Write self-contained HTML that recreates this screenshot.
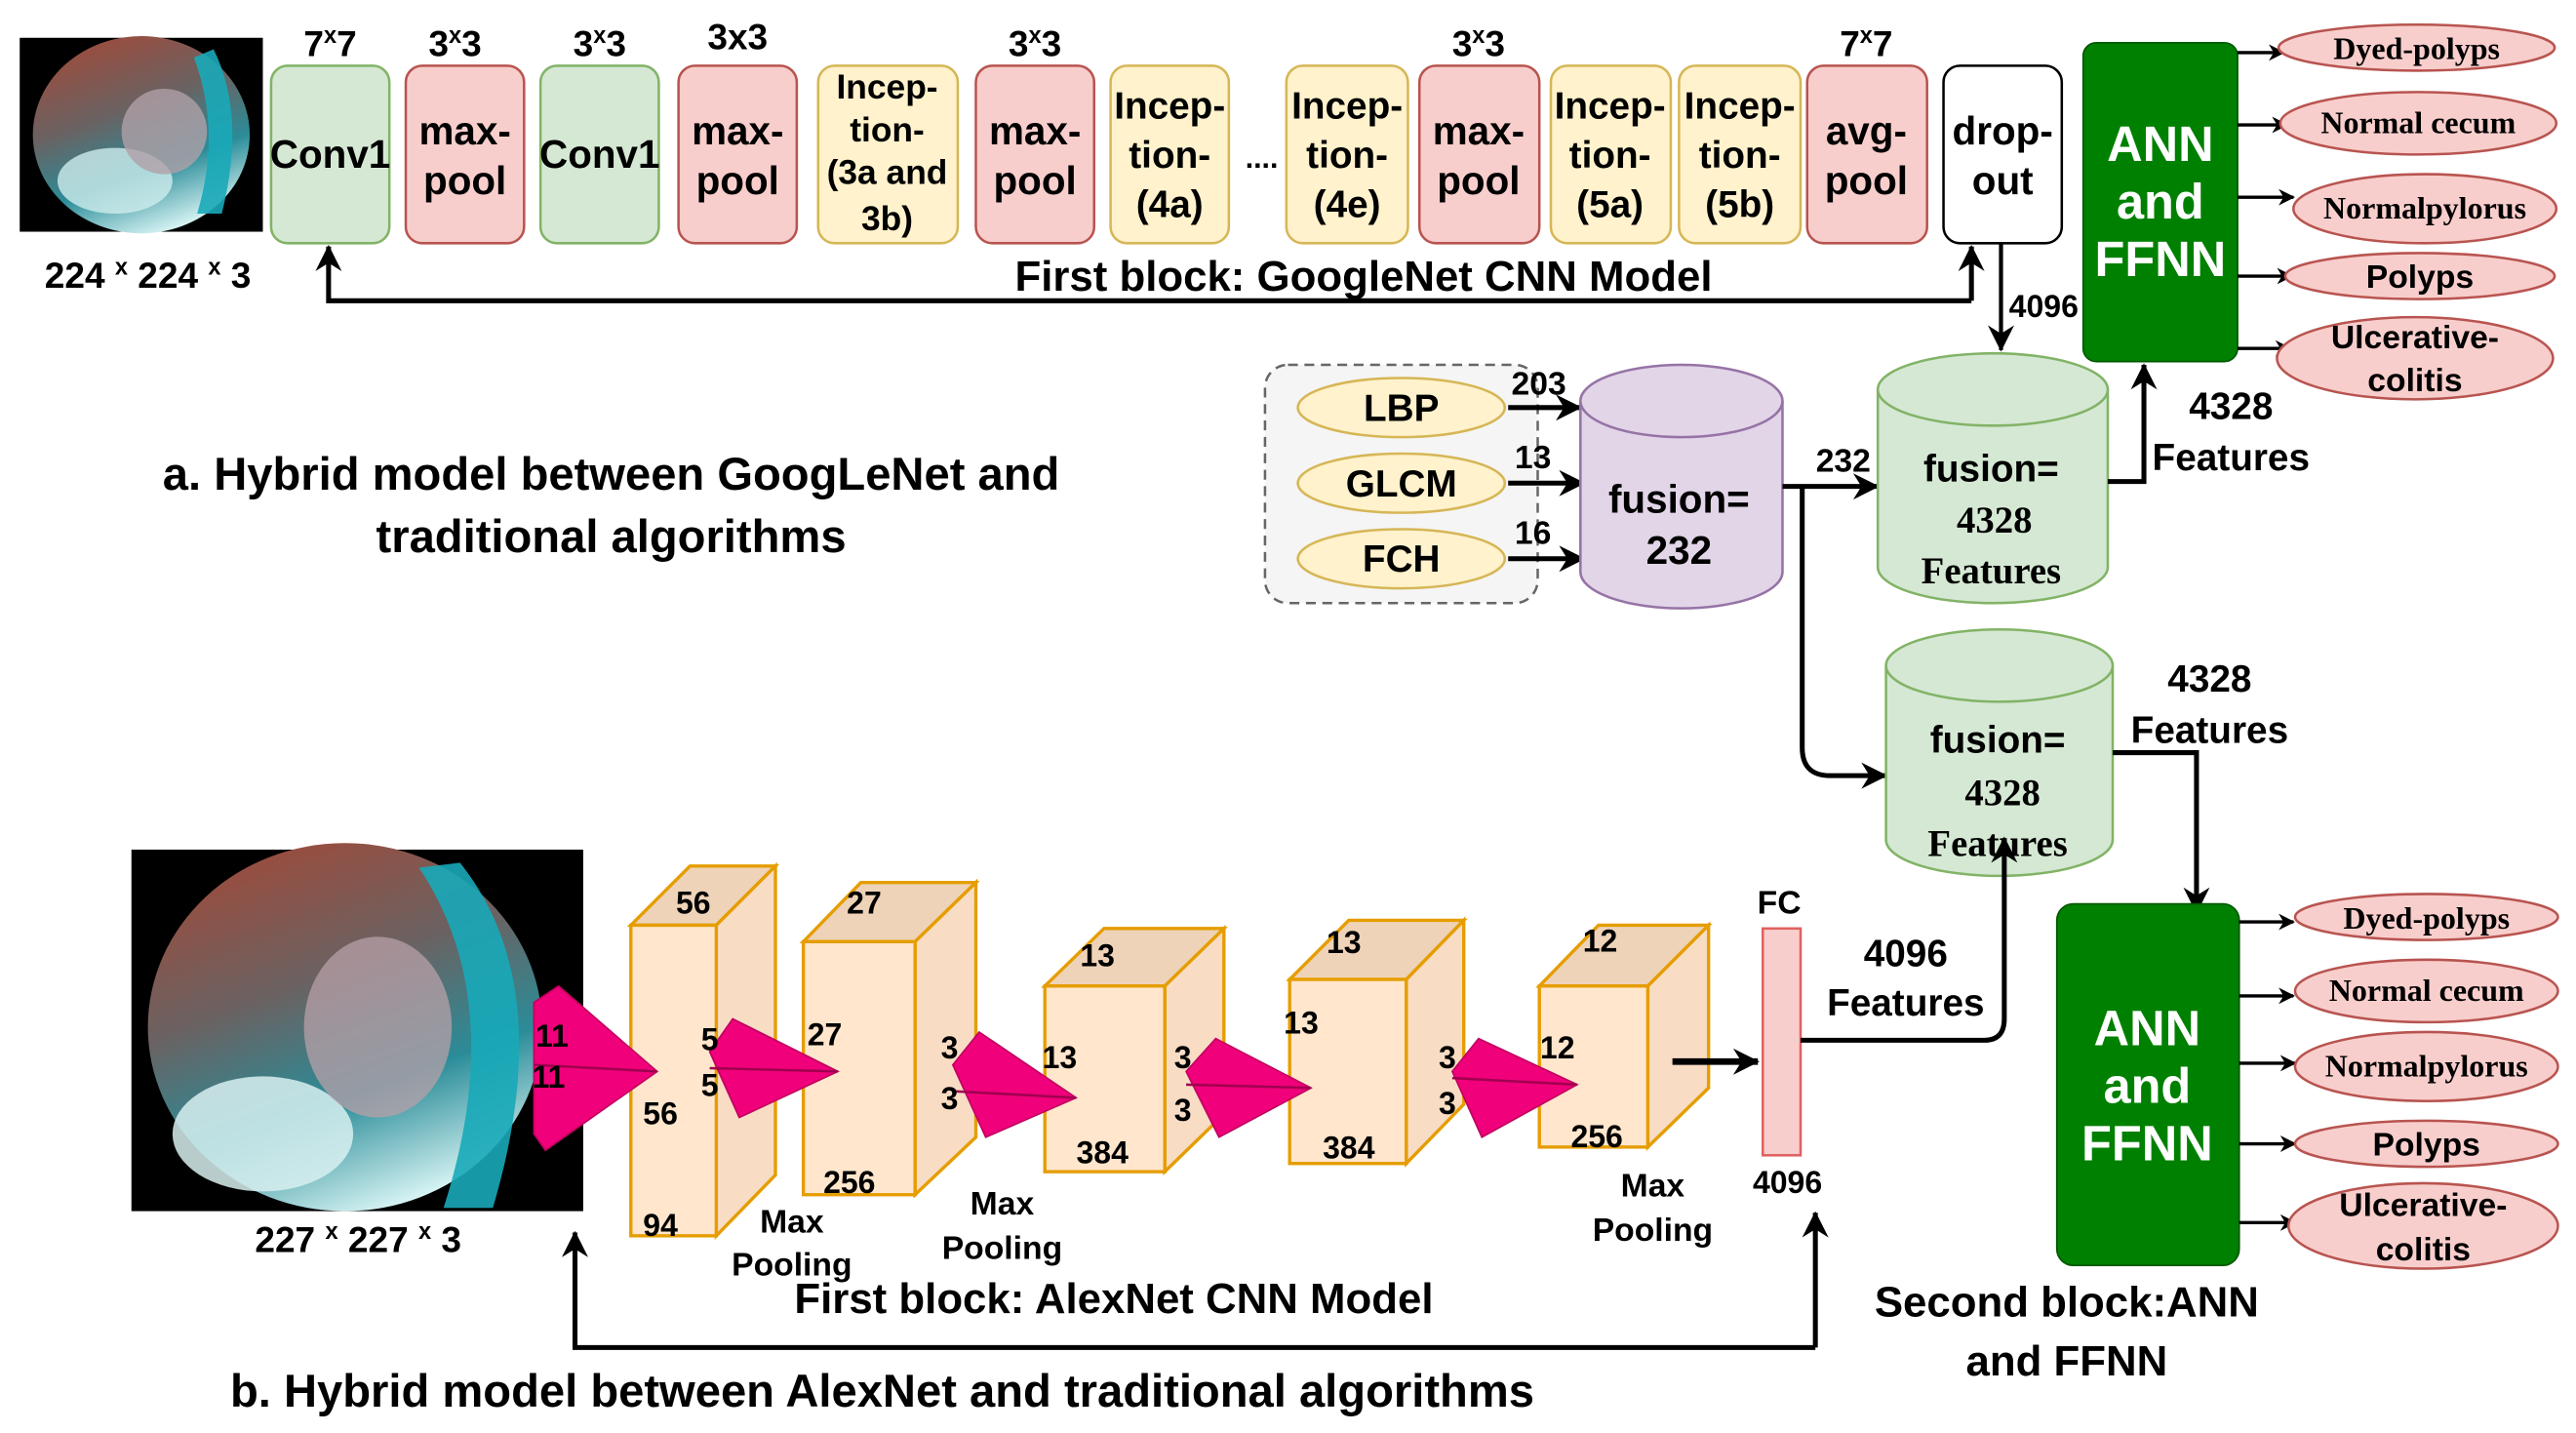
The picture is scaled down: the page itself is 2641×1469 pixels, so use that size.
<!DOCTYPE html>
<html><head><meta charset="utf-8"><style>html,body{margin:0;padding:0;background:#fff}svg{display:block;font-family:"Liberation Sans",Arial,sans-serif}.serif{font-family:"Liberation Serif",serif}.sans{font-family:"Liberation Sans",sans-serif}</style></head>
<body>
<svg width="2641" height="1469" viewBox="0 0 1568 872" preserveAspectRatio="none" xmlns="http://www.w3.org/2000/svg" font-weight="bold">
<defs>
<marker id="ah" markerWidth="10" markerHeight="10" refX="9" refY="5" orient="auto" markerUnits="userSpaceOnUse"><path d="M0,0 L10,5 L0,10 L3,5 z" fill="#000"/></marker>
<marker id="ahb" markerWidth="16" markerHeight="16" refX="15" refY="8" orient="auto" markerUnits="userSpaceOnUse"><path d="M0,0 L16,8 L0,16 L5,8 z" fill="#000"/></marker>
<linearGradient id="photo2" x1="0.2" y1="0" x2="0.6" y2="1"><stop offset="0" stop-color="#a04a3a"/><stop offset="0.4" stop-color="#6a6262"/><stop offset="0.7" stop-color="#2a8c98"/><stop offset="1" stop-color="#d8f4f4"/></linearGradient>
</defs>

<!-- top image -->
<rect x="12" y="23" width="148" height="118" fill="#000"/>
<ellipse cx="86" cy="82" rx="66" ry="60" fill="url(#photo2)"/>
<ellipse cx="70" cy="110" rx="35" ry="20" fill="#d0ecec" opacity="0.8"/>
<path d="M130,30 Q150,70 135,130 L120,130 Q135,80 118,35 z" fill="#1aa8b8" opacity="0.9"/>
<ellipse cx="100" cy="80" rx="26" ry="26" fill="#b0a0a8" opacity="0.8"/>
<text x="90" y="175" font-size="22" text-anchor="middle">224 <tspan font-size="14" dy="-8">x</tspan><tspan dy="8"> 224 </tspan><tspan font-size="14" dy="-8">x</tspan><tspan dy="8"> 3</tspan></text>

<!-- top row boxes -->
<g font-size="24" text-anchor="middle">
<rect x="165" y="40" width="72" height="108" rx="10" fill="#d5e8d4" stroke="#82b366" stroke-width="1.5"/>
<text x="201" y="102">Conv1</text>
<rect x="247" y="40" width="72" height="108" rx="10" fill="#f8cecc" stroke="#b85450" stroke-width="1.5"/>
<text x="283" y="88">max-</text><text x="283" y="118">pool</text>
<rect x="329" y="40" width="72" height="108" rx="10" fill="#d5e8d4" stroke="#82b366" stroke-width="1.5"/>
<text x="365" y="102">Conv1</text>
<rect x="413" y="40" width="72" height="108" rx="10" fill="#f8cecc" stroke="#b85450" stroke-width="1.5"/>
<text x="449" y="88">max-</text><text x="449" y="118">pool</text>
<rect x="498" y="40" width="85" height="108" rx="10" fill="#fff2cc" stroke="#d6b656" stroke-width="1.5"/>
<g font-size="21"><text x="540" y="60">Incep-</text><text x="540" y="86">tion-</text><text x="540" y="112">(3a and</text><text x="540" y="140">3b)</text></g>
<rect x="594" y="40" width="72" height="108" rx="10" fill="#f8cecc" stroke="#b85450" stroke-width="1.5"/>
<text x="630" y="88">max-</text><text x="630" y="118">pool</text>
<rect x="676" y="40" width="72" height="108" rx="10" fill="#fff2cc" stroke="#d6b656" stroke-width="1.5"/>
<g font-size="23"><text x="712" y="72">Incep-</text><text x="712" y="102">tion-</text><text x="712" y="132">(4a)</text></g>
<text x="768" y="102" font-size="18">....</text>
<rect x="783" y="40" width="74" height="108" rx="10" fill="#fff2cc" stroke="#d6b656" stroke-width="1.5"/>
<g font-size="23"><text x="820" y="72">Incep-</text><text x="820" y="102">tion-</text><text x="820" y="132">(4e)</text></g>
<rect x="864" y="40" width="73" height="108" rx="10" fill="#f8cecc" stroke="#b85450" stroke-width="1.5"/>
<text x="900" y="88">max-</text><text x="900" y="118">pool</text>
<rect x="944" y="40" width="73" height="108" rx="10" fill="#fff2cc" stroke="#d6b656" stroke-width="1.5"/>
<g font-size="23"><text x="980" y="72">Incep-</text><text x="980" y="102">tion-</text><text x="980" y="132">(5a)</text></g>
<rect x="1022" y="40" width="74" height="108" rx="10" fill="#fff2cc" stroke="#d6b656" stroke-width="1.5"/>
<g font-size="23"><text x="1059" y="72">Incep-</text><text x="1059" y="102">tion-</text><text x="1059" y="132">(5b)</text></g>
<rect x="1100" y="40" width="73" height="108" rx="10" fill="#f8cecc" stroke="#b85450" stroke-width="1.5"/>
<text x="1136" y="88">avg-</text><text x="1136" y="118">pool</text>
<rect x="1183" y="40" width="72" height="108" rx="10" fill="#fff" stroke="#000" stroke-width="1.5"/>
<text x="1219" y="88">drop-</text><text x="1219" y="118">out</text>
</g>
<g font-size="22" text-anchor="middle">
<text x="201" y="34">7<tspan font-size="14" dy="-8">x</tspan><tspan dy="8">7</tspan></text>
<text x="277" y="34">3<tspan font-size="14" dy="-8">x</tspan><tspan dy="8">3</tspan></text>
<text x="365" y="34">3<tspan font-size="14" dy="-8">x</tspan><tspan dy="8">3</tspan></text>
<text x="449" y="30">3x3</text>
<text x="630" y="34">3<tspan font-size="14" dy="-8">x</tspan><tspan dy="8">3</tspan></text>
<text x="900" y="34">3<tspan font-size="14" dy="-8">x</tspan><tspan dy="8">3</tspan></text>
<text x="1136" y="34">7<tspan font-size="14" dy="-8">x</tspan><tspan dy="8">7</tspan></text>
</g>

<!-- top feedback -->
<path d="M1200,183 L200,183 L200,150" fill="none" stroke="#000" stroke-width="3" marker-end="url(#ahb)"/>
<path d="M1200,183 L1200,150" fill="none" stroke="#000" stroke-width="3" marker-end="url(#ahb)"/>
<text x="830" y="177" font-size="26" text-anchor="middle">First block: GoogleNet CNN Model</text>
<path d="M1218,148 L1218,213" fill="none" stroke="#000" stroke-width="2.5" marker-end="url(#ahb)"/>
<text x="1244" y="193" font-size="19" text-anchor="middle">4096</text>

<!-- ANN top -->
<rect x="1268" y="26" width="94" height="194" rx="8" fill="#008000" stroke="#005700" stroke-width="1"/>
<g fill="#fff" font-size="30" text-anchor="middle"><text x="1315" y="98">ANN</text><text x="1315" y="133">and</text><text x="1315" y="168">FFNN</text></g>
<g stroke="#000" stroke-width="2" marker-end="url(#ah)"><path d="M1362,32 L1390,32"/><path d="M1362,76 L1392,76"/><path d="M1362,120 L1396,120"/><path d="M1362,168 L1395,168"/><path d="M1362,212 L1394,212"/></g>
<g fill="#f8cecc" stroke="#b85450" stroke-width="1.5">
<ellipse cx="1471" cy="29" rx="84" ry="14"/><ellipse cx="1472" cy="75" rx="84" ry="19"/><ellipse cx="1476" cy="127" rx="80" ry="21"/><ellipse cx="1473" cy="168" rx="82" ry="14"/><ellipse cx="1470" cy="218" rx="84" ry="25"/>
</g>
<g font-size="19" text-anchor="middle">
<text class="serif" x="1471" y="36">Dyed-polyps</text><text class="serif" x="1472" y="81">Normal cecum</text><text class="serif" x="1476" y="133">Normalpylorus</text>
<text x="1473" y="175" font-size="20">Polyps</text>
<text x="1470" y="212" font-size="20">Ulcerative-</text><text x="1470" y="238" font-size="20">colitis</text>
</g>

<text x="372" y="298" font-size="28" text-anchor="middle">a. Hybrid model between GoogLeNet and</text>
<text x="372" y="336" font-size="28" text-anchor="middle">traditional algorithms</text>

<!-- features group -->
<rect x="770" y="222" width="166" height="145" rx="14" fill="#f5f5f5" stroke="#666" stroke-width="1.5" stroke-dasharray="6,4"/>
<g fill="#fff2cc" stroke="#d6b656" stroke-width="1.5"><ellipse cx="853" cy="248" rx="63" ry="18"/><ellipse cx="853" cy="294" rx="63" ry="18"/><ellipse cx="853" cy="340" rx="63" ry="18"/></g>
<g font-size="23" text-anchor="middle"><text x="853" y="256">LBP</text><text x="853" y="302">GLCM</text><text x="853" y="348">FCH</text></g>
<g stroke="#000" stroke-width="3" marker-end="url(#ahb)"><path d="M918,248 L962,248"/><path d="M918,294 L964,294"/><path d="M918,340 L964,340"/></g>
<g font-size="20"><text x="920" y="240">203</text><text x="922" y="285">13</text><text x="922" y="331">16</text></g>

<!-- purple cylinder -->
<path d="M962,244 L962,348 A61,22 0 0 0 1085,348 L1085,244" fill="#e1d5e7" stroke="#9673a6" stroke-width="1.5"/>
<ellipse cx="1023.5" cy="244" rx="61.5" ry="22" fill="#e1d5e7" stroke="#9673a6" stroke-width="1.5"/>
<g font-size="24" text-anchor="middle"><text x="1022" y="312">fusion=</text><text x="1022" y="343">232</text></g>

<path d="M1085,296 L1143,296" stroke="#000" stroke-width="3" marker-end="url(#ahb)"/>
<text x="1122" y="287" font-size="20" text-anchor="middle">232</text>
<path d="M1097,296 L1097,455 Q1097,472 1114,472 L1148,472" fill="none" stroke="#000" stroke-width="3" marker-end="url(#ahb)"/>

<!-- green cylinder 1 -->
<path d="M1143,237 L1143,345 A70,22 0 0 0 1283,345 L1283,237" fill="#d5e8d4" stroke="#82b366" stroke-width="1.5"/>
<ellipse cx="1213" cy="237" rx="70" ry="22" fill="#d5e8d4" stroke="#82b366" stroke-width="1.5"/>
<g font-size="23" text-anchor="middle"><text x="1212" y="293">fusion=</text><text class="serif" x="1214" y="324">4328</text><text class="serif" x="1212" y="355">Features</text></g>
<path d="M1283,293 L1305,293 L1305,222" fill="none" stroke="#000" stroke-width="3" marker-end="url(#ahb)"/>
<g font-size="23" text-anchor="middle"><text x="1358" y="255">4328</text><text x="1358" y="286">Features</text></g>

<!-- green cylinder 2 -->
<path d="M1148,405 L1148,511 A69,22 0 0 0 1286,511 L1286,405" fill="#d5e8d4" stroke="#82b366" stroke-width="1.5"/>
<ellipse cx="1217" cy="405" rx="69" ry="22" fill="#d5e8d4" stroke="#82b366" stroke-width="1.5"/>
<g font-size="23" text-anchor="middle"><text x="1216" y="458">fusion=</text><text class="serif" x="1219" y="490">4328</text><text class="serif" x="1216" y="521">Features</text></g>
<path d="M1286,458 L1337,458 L1337,555" fill="none" stroke="#000" stroke-width="3" marker-end="url(#ahb)"/>
<g font-size="23" text-anchor="middle"><text x="1345" y="421">4328</text><text x="1345" y="452">Features</text></g>

<!-- ANN 2 -->
<rect x="1252" y="550" width="111" height="220" rx="10" fill="#008000" stroke="#005700" stroke-width="1"/>
<g fill="#fff" font-size="30" text-anchor="middle"><text x="1307" y="636">ANN</text><text x="1307" y="671">and</text><text x="1307" y="706">FFNN</text></g>
<g stroke="#000" stroke-width="2" marker-end="url(#ah)"><path d="M1363,561 L1396,561"/><path d="M1363,606 L1396,606"/><path d="M1363,647 L1397,647"/><path d="M1363,696 L1397,696"/><path d="M1363,744 L1397,744"/></g>
<g fill="#f8cecc" stroke="#b85450" stroke-width="1.5">
<ellipse cx="1477" cy="558" rx="80" ry="14"/><ellipse cx="1477" cy="603" rx="80" ry="19"/><ellipse cx="1477" cy="649" rx="80" ry="21"/><ellipse cx="1477" cy="696" rx="80" ry="14"/><ellipse cx="1475" cy="746" rx="82" ry="26"/>
</g>
<g font-size="19" text-anchor="middle">
<text class="serif" x="1477" y="565">Dyed-polyps</text><text class="serif" x="1477" y="609">Normal cecum</text><text class="serif" x="1477" y="655">Normalpylorus</text>
<text x="1477" y="703" font-size="20">Polyps</text>
<text x="1475" y="740" font-size="20">Ulcerative-</text><text x="1475" y="767" font-size="20">colitis</text>
</g>
<g font-size="26" text-anchor="middle"><text x="1258" y="801">Second block:ANN</text><text x="1258" y="837">and FFNN</text></g>

<!-- bottom image -->
<rect x="80" y="517" width="275" height="220" fill="#000"/>
<ellipse cx="210" cy="625" rx="120" ry="112" fill="url(#photo2)"/>
<ellipse cx="160" cy="690" rx="55" ry="35" fill="#d8f0f0" opacity="0.85"/>
<path d="M280,525 Q340,600 300,735 L270,735 Q310,610 255,528 z" fill="#18a8b8" opacity="0.9"/>
<ellipse cx="230" cy="625" rx="45" ry="55" fill="#b8a0a8" opacity="0.75"/>
<text x="218" y="762" font-size="22" text-anchor="middle">227 <tspan font-size="14" dy="-8">x</tspan><tspan dy="8"> 227 </tspan><tspan font-size="14" dy="-8">x</tspan><tspan dy="8"> 3</tspan></text>

<!-- 3D boxes -->
<g stroke="#e59d00" stroke-width="2">
<path d="M384,563 L420,527 L472,527 L436,563 z" fill="#eed3b8"/><path d="M436,563 L472,527 L472,715 L436,752 z" fill="#f8dcc4"/><rect x="384" y="563" width="52" height="189" fill="#ffe6cc"/>
<path d="M489,573 L524,537 L594,537 L557,573 z" fill="#eed3b8"/><path d="M557,573 L594,537 L594,692 L557,727 z" fill="#f8dcc4"/><rect x="489" y="573" width="68" height="154" fill="#ffe6cc"/>
<path d="M636,600 L672,565 L745,565 L709,600 z" fill="#eed3b8"/><path d="M709,600 L745,565 L745,678 L709,713 z" fill="#f8dcc4"/><rect x="636" y="600" width="73" height="113" fill="#ffe6cc"/>
<path d="M785,596 L821,560 L891,560 L856,596 z" fill="#eed3b8"/><path d="M856,596 L891,560 L891,672 L856,708 z" fill="#f8dcc4"/><rect x="785" y="596" width="71" height="112" fill="#ffe6cc"/>
<path d="M937,600 L973,563 L1040,563 L1003,600 z" fill="#eed3b8"/><path d="M1003,600 L1040,563 L1040,662 L1003,698 z" fill="#f8dcc4"/><rect x="937" y="600" width="66" height="98" fill="#ffe6cc"/>
</g>
<!-- pink pyramids -->
<g fill="#f0007a" stroke="#c00060" stroke-width="1">
<path d="M325,610 L340,600 L400,652 L332,700 L325,690 z"/><path d="M432,640 L446,620 L510,652 L450,680 z"/>
<path d="M580,648 L596,628 L655,668 L600,692 z"/><path d="M722,652 L740,632 L798,662 L742,692 z"/>
<path d="M884,652 L900,632 L960,660 L902,692 z"/>
</g>
<g stroke="#a00050" stroke-width="1.5"><path d="M325,648 L400,652"/><path d="M432,650 L510,652"/><path d="M580,664 L655,668"/><path d="M722,660 L798,662"/><path d="M884,656 L960,660"/></g>
<g font-size="19" text-anchor="middle">
<text x="422" y="556">56</text><text x="402" y="684">56</text><text x="402" y="752">94</text><text x="432" y="639">5</text><text x="432" y="667">5</text>
<text x="336" y="637">11</text><text x="334" y="662">11</text>
<text x="526" y="556">27</text><text x="502" y="636">27</text><text x="517" y="726">256</text><text x="578" y="644">3</text><text x="578" y="675">3</text>
<text x="668" y="588">13</text><text x="645" y="650">13</text><text x="671" y="708">384</text><text x="720" y="650">3</text><text x="720" y="682">3</text>
<text x="818" y="580">13</text><text x="792" y="629">13</text><text x="821" y="705">384</text><text x="881" y="650">3</text><text x="881" y="678">3</text>
<text x="974" y="579">12</text><text x="948" y="644">12</text><text x="972" y="698">256</text>
</g>
<g font-size="20" text-anchor="middle">
<text x="482" y="750">Max</text><text x="482" y="776">Pooling</text>
<text x="610" y="739">Max</text><text x="610" y="766">Pooling</text>
<text x="1006" y="728">Max</text><text x="1006" y="755">Pooling</text>
</g>
<path d="M1018,646 L1070,646" stroke="#000" stroke-width="4" marker-end="url(#ahb)"/>
<rect x="1073" y="565" width="23" height="138" fill="#f8cecc" stroke="#e06060" stroke-width="1.5"/>
<text x="1083" y="556" font-size="20" text-anchor="middle">FC</text>
<text x="1088" y="726" font-size="19" text-anchor="middle">4096</text>
<path d="M1096,633 L1208,633 Q1220,633 1220,620 L1220,510" fill="none" stroke="#000" stroke-width="3" marker-end="url(#ahb)"/>
<g font-size="23" text-anchor="middle"><text x="1160" y="588">4096</text><text x="1160" y="618">Features</text></g>

<!-- bottom feedback -->
<path d="M1105,820 L350,820 L350,750" fill="none" stroke="#000" stroke-width="3" marker-end="url(#ahb)"/>
<path d="M1105,820 L1105,738" fill="none" stroke="#000" stroke-width="3" marker-end="url(#ahb)"/>
<text x="678" y="799" font-size="26" text-anchor="middle">First block: AlexNet CNN Model</text>
<text x="537" y="856" font-size="28" text-anchor="middle">b. Hybrid model between AlexNet and traditional algorithms</text>
</svg>
</body></html>
